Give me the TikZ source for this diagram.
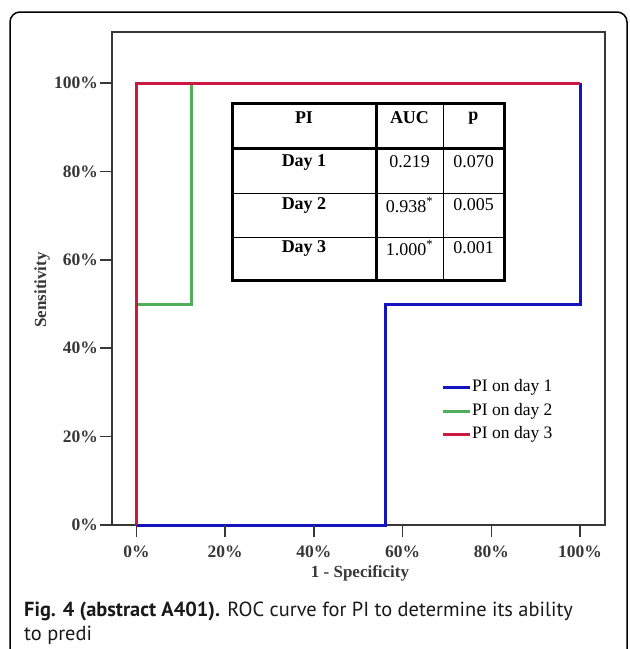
\documentclass[tikz,border=0pt]{standalone}
\usepackage{fontspec}
\setmainfont{Liberation Serif}
\newfontfamily\capfont{PT Sans}
\usetikzlibrary{positioning}
\usetikzlibrary{calc}
\definecolor{rocblue}{RGB}{20,20,190}
\definecolor{rocgreen}{RGB}{80,175,90}
\definecolor{rocred}{RGB}{205,25,65}
\definecolor{axisgray}{RGB}{55,55,55}
\tikzstyle{ticklabel}=[font=\fontsize{17.5}{17.5}\selectfont\bfseries,text=axisgray,inner sep=0pt]
\tikzstyle{axistitle}=[font=\fontsize{17}{17}\selectfont\bfseries,text=axisgray,inner sep=0pt]
\tikzstyle{roc}=[line width=3pt]
\tikzstyle{thickrule}=[draw,line width=3pt]
\tikzstyle{thinrule}=[draw,line width=1pt]
\tikzstyle{cellhead}=[font=\fontsize{18}{18}\selectfont\bfseries,inner sep=0pt]
\tikzstyle{cellval}=[font=\fontsize{18}{18}\selectfont,inner sep=0pt]
\tikzstyle{legendtext}=[font=\fontsize{17.5}{17.5}\selectfont,anchor=west,inner sep=0pt]
\tikzstyle{captext}=[font=\capfont\fontsize{20.4}{24}\selectfont,text=black!90,anchor=base west,inner sep=0pt]
\begin{document}
\begin{tikzpicture}[x=1pt,y=-1pt]
    \useasboundingbox (0,0) rectangle (630,649);
    \draw[line width=1.5pt,rounded corners=10pt] (10,12) rectangle (627,662);

    % plot frame
    \draw[axisgray,line width=2pt] (112,32) rectangle (605,525);

    \begin{scope}[shift={(136.5,525)},x=4.435pt,y=4.42pt]
        \draw[roc,rocblue] (0,0) -- (56.25,0) -- (56.25,50) -- (100,50) -- (100,100);
        \draw[roc,rocgreen] (0,0) -- (0,50) -- (12.5,50) -- (12.5,100) -- (100,100);
        \draw[roc,rocred] (0,0) -- (0,100) -- (100,100);

        \foreach \v in {0,20,40,60,80,100}
        {
            \draw[axisgray,line width=1.5pt] (-5.5,\v) -- ++(-12pt,0);
            \node[ticklabel,anchor=east,xshift=-14pt] (ylab\v) at (-5.5,\v) {\v\%};
            \draw[axisgray,line width=1.5pt] (\v,0) -- ++(0,-12pt);
            \node[ticklabel,yshift=-27pt] (xlab\v) at (\v,0) {\v\%};
        }
    \end{scope}

    \node[axistitle] (xtitle) at (360,573) {1 - Specificity};
    \node[axistitle,rotate=90] (ytitle) at (42,290) {Sensitivity};

    % table
    \foreach \y in {193,237}
        \path[thinrule] (232,\y) -- (504,\y);
    \path[thinrule] (443,103) -- (443,280);
    \path[thickrule] (376,103) -- (376,280);
    \path[thickrule] (232,148) -- (504,148);
    \path[thickrule] (232,103) rectangle (504,280);

    \foreach \pos/\name/\label in {{(304,118)/hpi/PI}, {(409.5,118)/hauc/AUC}, {(473.5,118)/hp/p}, {(304,162)/day1/Day 1}, {(304,205)/day2/Day 2}, {(304,248)/day3/Day 3}}
        \node[cellhead] (\name) at \pos {\label};

    \foreach \pos/\name/\label in {{(409.5,162)/auc1/0.219}, {(473.5,162)/p1/0.070}, {(409.5,205)/auc2/0.938\textsuperscript{*}}, {(473.5,205)/p2/0.005}, {(409.5,248)/auc3/1.000\textsuperscript{*}}, {(473.5,248)/p3/0.001}}
        \node[cellval] (\name) at \pos {\label};

    % legend
    \foreach \y/\name/\col/\label in {387/leg1/rocblue/PI on day 1, 411/leg2/rocgreen/PI on day 2, 434/leg3/rocred/PI on day 3}
    {
        \coordinate (\name s) at (443,\y);
        \node[legendtext] (\name) at (472,\y) {\label};
        \draw[roc,\col] (\name s) -- ([xshift=-2pt]\name.west);
    }

    % caption
    \node[captext] (capA) at (24,616) {\textbf{Fig. 4 (abstract A401).} ROC curve for PI to determine its ability};
    \node[captext] (capB) at (24,640) {to predi};
\end{tikzpicture}
\end{document}
